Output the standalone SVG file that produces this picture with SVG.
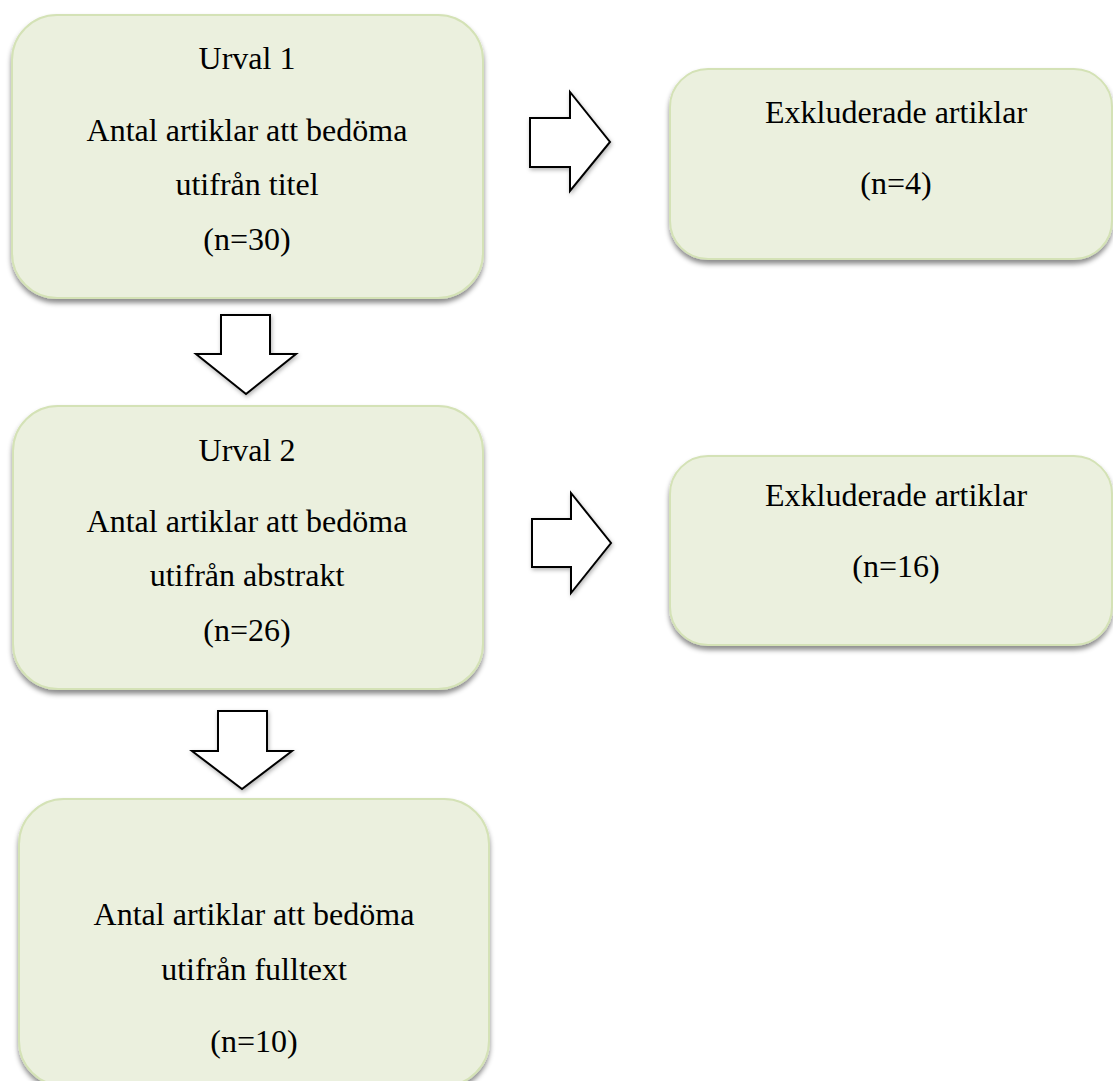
<svg xmlns="http://www.w3.org/2000/svg" width="1113" height="1081" viewBox="0 0 1113 1081">
<defs>
<filter id="sh" x="-10%" y="-10%" width="120%" height="125%">
<feDropShadow dx="0" dy="4" stdDeviation="2.5" flood-color="#000" flood-opacity="0.45"/>
</filter>
<filter id="ash" x="-20%" y="-20%" width="140%" height="140%">
<feDropShadow dx="1" dy="2" stdDeviation="2" flood-color="#000" flood-opacity="0.3"/>
</filter>
</defs>
<style>
.box{fill:#EBF0DE;stroke:#D4E2B6;stroke-width:2;filter:url(#sh)}
.arr{fill:#fff;stroke:#000;stroke-width:2;stroke-linejoin:miter;filter:url(#ash)}
text{font-family:"Liberation Serif","Times New Roman",serif;font-size:32px;fill:#000;text-anchor:middle}
</style>
<rect width="1113" height="1081" fill="#fff"/>
<g id="connectors">
<polygon class="arr" points="221,315 270,315 270,354 296,354 246,394 196,354 221,354"/>
<polygon class="arr" points="218,711 267,711 267,751 292,751 242,789 192,751 218,751"/>
<polygon class="arr" points="530,118 570,118 570,92 610,142 570,191 570,167 530,167"/>
<polygon class="arr" points="532,519 571,519 571,493 611,543 571,593 571,567 532,567"/>
</g>
<g id="urval1">
<rect class="box" x="12" y="15" width="471" height="283" rx="45" ry="45"/>
<text x="247" y="69">Urval 1</text>
<text x="247" y="141">Antal artiklar att bedöma</text>
<text x="247" y="195">utifrån titel</text>
<text x="247" y="250">(n=30)</text>
</g>
<g id="exkluderade1">
<rect class="box" x="670" y="69" width="442" height="190" rx="38" ry="38"/>
<text x="896" y="123">Exkluderade artiklar</text>
<text x="896" y="194">(n=4)</text>
</g>
<g id="urval2">
<rect class="box" x="13" y="406" width="470" height="283" rx="45" ry="45"/>
<text x="247" y="461">Urval 2</text>
<text x="247" y="532">Antal artiklar att bedöma</text>
<text x="247" y="586">utifrån abstrakt</text>
<text x="247" y="641">(n=26)</text>
</g>
<g id="exkluderade2">
<rect class="box" x="670" y="456" width="442" height="189" rx="38" ry="38"/>
<text x="896" y="506">Exkluderade artiklar</text>
<text x="896" y="577">(n=16)</text>
</g>
<g id="fulltext">
<rect class="box" x="19" y="799" width="470" height="287" rx="45" ry="45"/>
<text x="254" y="925">Antal artiklar att bedöma</text>
<text x="254" y="980">utifrån fulltext</text>
<text x="254" y="1052">(n=10)</text>
</g>
</svg>
